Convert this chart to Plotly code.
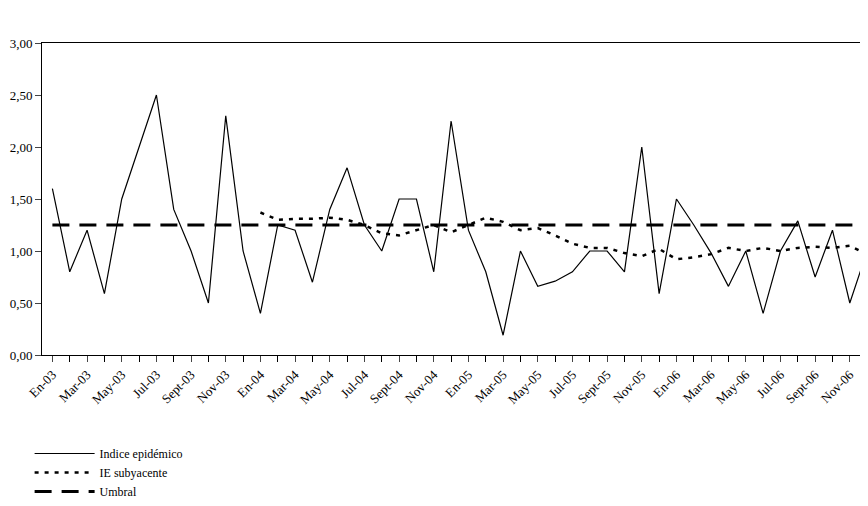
import plotly.graph_objects as go

# ============================
# DATA
# ============================
months = ["En", "Feb", "Mar", "Abr", "May", "Jun", "Jul", "Ago", "Sept", "Oct", "Nov", "Dic"]
years = ["03", "04", "05", "06"]
labels = [m + "-" + y for y in years for m in months]

indice = [1.6, 0.8, 1.2, 0.59, 1.5, 2.0, 2.5, 1.4, 1.0, 0.5, 2.3, 1.0,
          0.4, 1.25, 1.2, 0.7, 1.4, 1.8, 1.25, 1.0, 1.5, 1.5, 0.8, 2.25,
          1.2, 0.8, 0.19, 1.0, 0.66, 0.71, 0.8, 1.0, 1.0, 0.8, 2.0, 0.59,
          1.5, 1.25, 0.98, 0.66, 1.0, 0.4, 1.0, 1.29, 0.75, 1.2, 0.5, 1.0]

subyacente = [None] * 12 + [
          1.37, 1.3, 1.31, 1.31, 1.32, 1.3, 1.25, 1.17, 1.15, 1.2, 1.25, 1.18,
          1.25, 1.32, 1.28, 1.2, 1.22, 1.15, 1.07, 1.03, 1.03, 0.98, 0.95, 1.02,
          0.92, 0.94, 0.97, 1.03, 1.0, 1.03, 1.0, 1.03, 1.04, 1.03, 1.05, 0.97]

umbral = [1.25] * 48

x = list(range(48))

# ============================
# FIGURE
# ============================
fig = go.Figure()
fig.add_trace(go.Scatter(x=x, y=indice, mode="lines", name="Indice epidémico",
                         line=dict(color="black", width=1.2)))
fig.add_trace(go.Scatter(x=x, y=subyacente, mode="lines", name="IE subyacente",
                         line=dict(color="black", width=2.5, dash="4px,6px")))
fig.add_trace(go.Scatter(x=x, y=umbral, mode="lines", name="Umbral",
                         line=dict(color="black", width=3, dash="17px,10px")))

serif = "'Liberation Serif', 'DejaVu Serif', serif"

fig.update_layout(
    width=860, height=498,
    margin=dict(l=34, r=0, t=35, b=146),
    plot_bgcolor="white", paper_bgcolor="white",
    font=dict(family=serif, size=13, color="black"),
    separators=",.",
    showlegend=True,
    legend=dict(x=-0.015, y=-0.27, xanchor="left", yanchor="top",
                font=dict(family=serif, size=12), tracegroupgap=6, itemwidth=60),
    xaxis=dict(range=[-0.6, 47.05], tickmode="array", automargin=False,
               tickvals=x[::2], ticktext=labels[::2], tickangle=-45,
               tickfont=dict(family=serif, size=13),
               ticks="outside", ticklen=6, showline=True, linecolor="black",
               mirror=True, showgrid=False, zeroline=False,
               minor=dict(tickmode="linear", dtick=1, ticks="outside", ticklen=6, tickcolor="black")),
    yaxis=dict(range=[0, 3], dtick=0.5, tickformat=".2f", automargin=False,
               tickfont=dict(family=serif, size=13),
               ticks="outside", ticklen=6, showline=True, linecolor="black",
               showgrid=False, zeroline=False),
)

fig.write_html("out.html")
